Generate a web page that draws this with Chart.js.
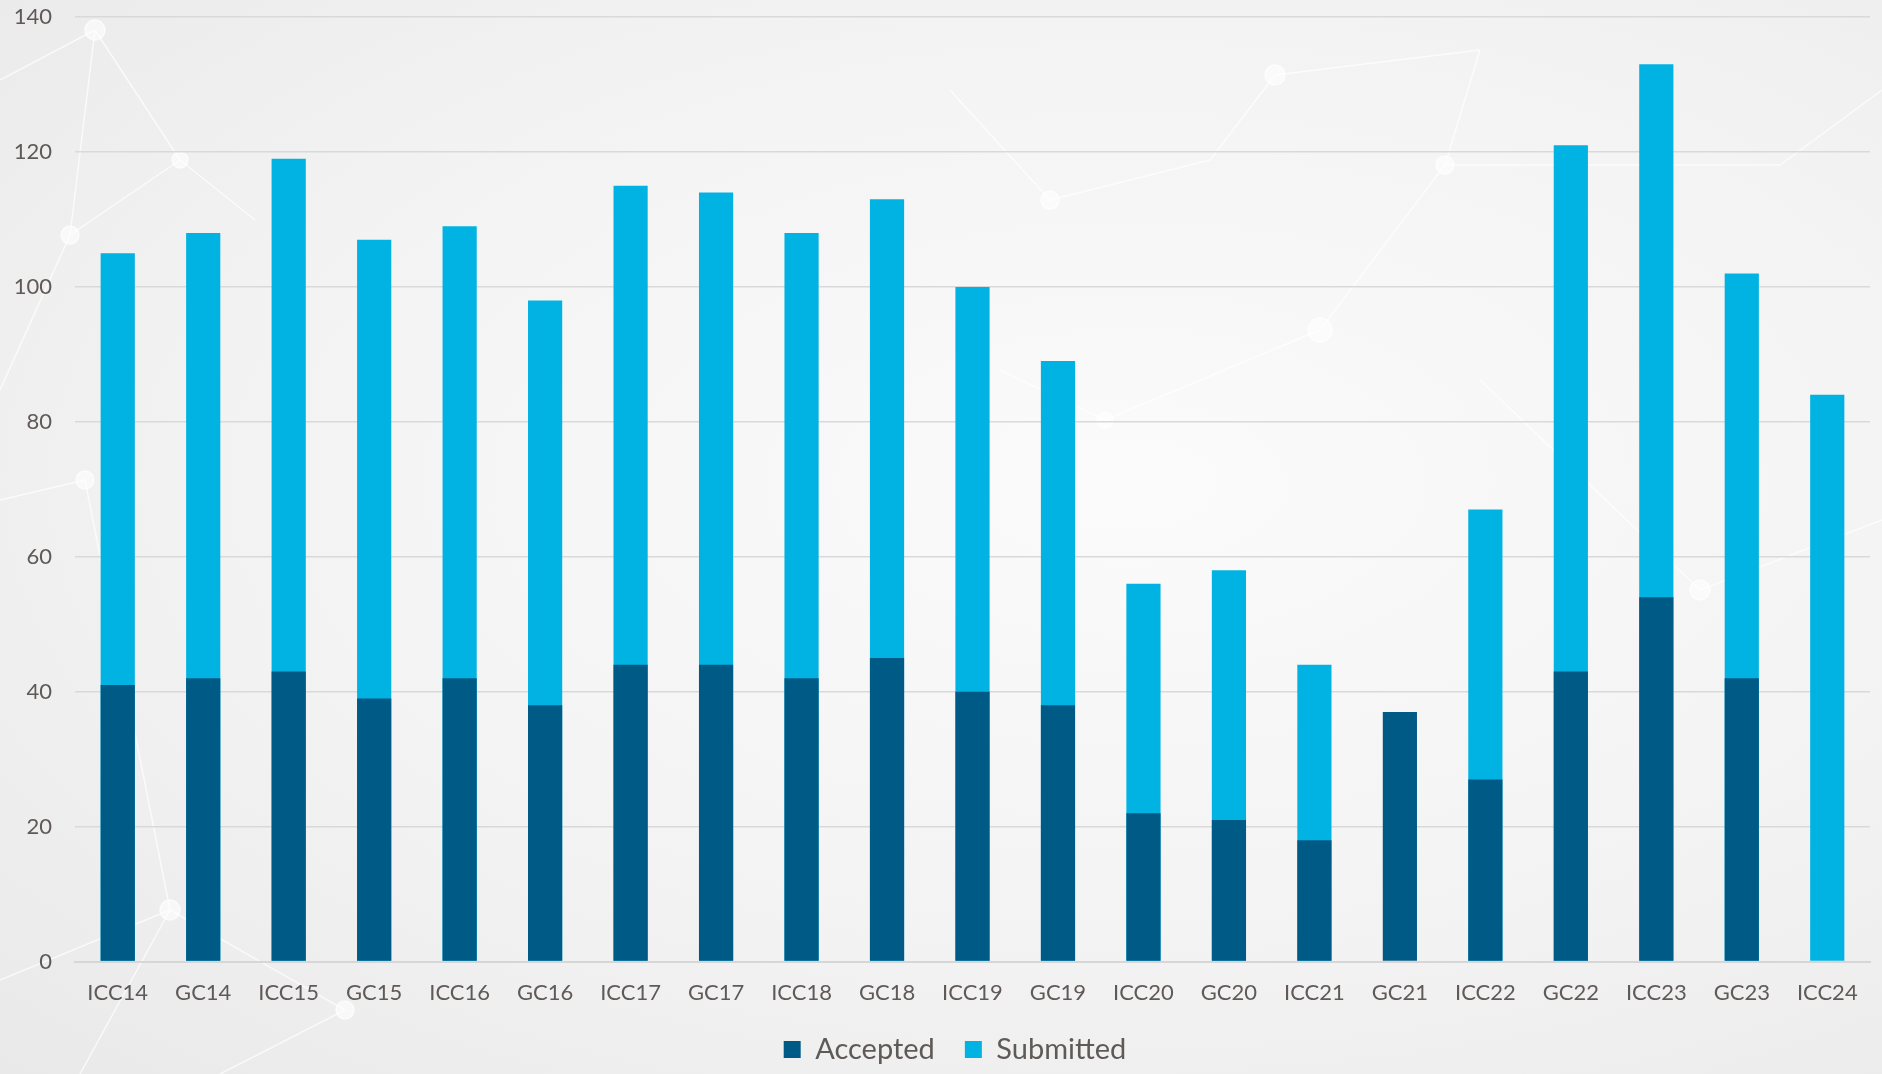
<!DOCTYPE html>
<html>
<head>
<meta charset="utf-8">
<script src="https://cdn.jsdelivr.net/npm/chart.js@4"></script>
<style>
  html, body { margin: 0; padding: 0; }
  body {
    width: 1882px; height: 1074px; overflow: hidden;
    background: radial-gradient(ellipse at 60% 45%, #fbfbfb 0%, #f3f3f3 55%, #e9e9e9 100%);
  }
  #wrap { position: relative; width: 1882px; height: 1074px; }
  #net { position: absolute; left: 0; top: 0; }
  #chart { position: absolute; left: 0; top: 0; }
</style>
</head>
<body>
<div id="wrap">
<svg id="net" width="1882" height="1074" stroke="#ffffff" stroke-opacity="0.7" stroke-width="1.5" fill="#ffffff" fill-opacity="0.6">
  <line x1="0" y1="80" x2="95" y2="30"/><line x1="95" y1="30" x2="70" y2="235"/>
  <line x1="70" y1="235" x2="0" y2="390"/><line x1="70" y1="235" x2="180" y2="160"/>
  <line x1="95" y1="30" x2="180" y2="160"/><line x1="180" y1="160" x2="255" y2="220"/>
  <line x1="0" y1="500" x2="85" y2="480"/><line x1="85" y1="480" x2="170" y2="910"/>
  <line x1="170" y1="910" x2="0" y2="980"/><line x1="170" y1="910" x2="345" y2="1010"/>
  <line x1="345" y1="1010" x2="220" y2="1074"/><line x1="80" y1="1074" x2="170" y2="910"/>
  <line x1="950" y1="90" x2="1050" y2="200"/><line x1="1050" y1="200" x2="1210" y2="160"/>
  <line x1="1210" y1="160" x2="1275" y2="75"/><line x1="1275" y1="75" x2="1480" y2="50"/>
  <line x1="1480" y1="50" x2="1445" y2="165"/><line x1="1445" y1="165" x2="1320" y2="330"/>
  <line x1="1320" y1="330" x2="1105" y2="420"/><line x1="1105" y1="420" x2="1000" y2="370"/>
  <line x1="1480" y1="380" x2="1700" y2="590"/><line x1="1700" y1="590" x2="1882" y2="520"/>
  <line x1="1780" y1="165" x2="1882" y2="90"/><line x1="1445" y1="165" x2="1780" y2="165"/>
  <circle cx="95" cy="30" r="10"/><circle cx="70" cy="235" r="9"/><circle cx="180" cy="160" r="8"/>
  <circle cx="85" cy="480" r="9"/><circle cx="170" cy="910" r="10"/><circle cx="345" cy="1010" r="9"/>
  <circle cx="1050" cy="200" r="9"/><circle cx="1275" cy="75" r="10"/><circle cx="1445" cy="165" r="9"/>
  <circle cx="1320" cy="330" r="12"/><circle cx="1105" cy="420" r="8"/><circle cx="1700" cy="590" r="10"/>
</svg>
<canvas id="chart" width="1882" height="1074"></canvas>
</div>
<script>
var categories = ['ICC14', 'GC14', 'ICC15', 'GC15', 'ICC16', 'GC16', 'ICC17', 'GC17', 'ICC18', 'GC18', 'ICC19',
                  'GC19', 'ICC20', 'GC20', 'ICC21', 'GC21', 'ICC22', 'GC22', 'ICC23', 'GC23', 'ICC24'];
var accepted = [41, 42, 43, 39, 42, 38, 44, 44, 42, 45, 40, 38, 22, 21, 18, 37, 27, 43, 54, 42, null];
var submitted = [105, 108, 119, 107, 109, 98, 115, 114, 108, 113, 100, 89, 56, 58, 44, null, 67, 121, 133, 102, 84];
var yTicks = [0, 20, 40, 60, 80, 100, 120, 140];

var textColor = '#5f5a57';
var fontFamily = 'Lato, "Open Sans", sans-serif';

// nudge the legend a little right, like the original
var legendShift = {
    id: 'legendShift',
    afterLayout: function (chart) {
        chart.legend.left += 20;
        chart.legend.right += 20;
    }
};

var chart = new Chart(document.getElementById('chart'), {
    type: 'bar',
    data: {
        labels: categories,
        datasets: [{
            label: 'Accepted',
            data: accepted,
            backgroundColor: '#005a86',
            borderWidth: 0
        }, {
            label: 'Submitted',
            data: submitted,
            backgroundColor: '#00b3e2',
            borderWidth: 0
        }]
    },
    plugins: [legendShift],
    options: {
        responsive: false,
        animation: false,
        devicePixelRatio: 1,
        layout: { padding: { top: 0, right: 12, bottom: 0, left: 0 } },
        datasets: {
            bar: { grouped: false, categoryPercentage: 1, barPercentage: 0.4 }
        },
        plugins: {
            tooltip: { enabled: false },
            legend: {
                position: 'bottom',
                labels: {
                    boxWidth: 17,
                    boxHeight: 17,
                    padding: 30,
                    color: textColor,
                    font: { family: fontFamily, size: 29 }
                }
            }
        },
        scales: {
            x: {
                afterFit: function (scale) { scale.height = scale.height - 19; },
                grid: { display: false, drawTicks: false },
                border: { display: true, color: '#d6d6d6', width: 2 },
                ticks: {
                    color: textColor,
                    padding: 18,
                    maxRotation: 0,
                    autoSkip: false,
                    font: { family: fontFamily, size: 22 }
                }
            },
            y: {
                min: 0,
                max: 140,
                afterFit: function (scale) {
                    scale.width = 75;
                    scale.paddingTop = 17;
                    scale.paddingBottom = 0;
                },
                afterBuildTicks: function (scale) {
                    scale.ticks = yTicks.map(function (v) { return { value: v }; });
                },
                grid: { color: '#d9d9d9', lineWidth: 1.5, drawTicks: false },
                border: { display: false },
                ticks: {
                    color: textColor,
                    padding: 23,
                    font: { family: fontFamily, size: 22 }
                }
            }
        }
    }
});
</script>
</body>
</html>
